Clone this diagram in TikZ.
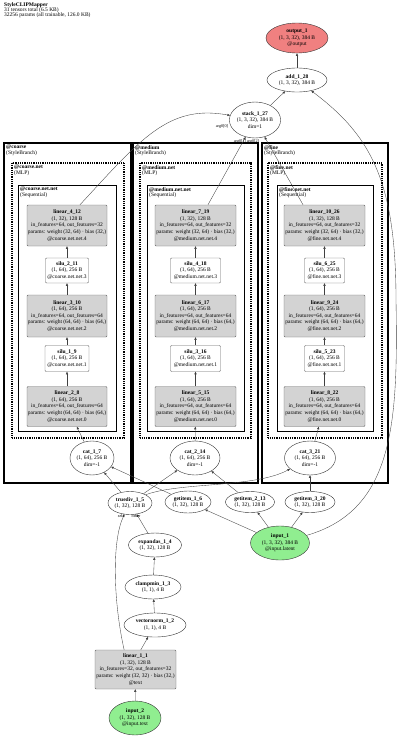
\documentclass[tikz,border=0pt]{standalone}
\usepackage{fontspec}
\setmainfont{Liberation Serif}
\usetikzlibrary{shapes.geometric,arrows.meta}
\definecolor{outred}{RGB}{240,128,128}
\definecolor{ingreen}{RGB}{144,238,144}
\definecolor{opgray}{RGB}{211,211,211}
\begin{document}
\begin{tikzpicture}[x=1pt,y=-1pt,
  font=\fontsize{5.5}{6.6}\selectfont,
  ell/.style={ellipse, draw=black!80, line width=0.4pt, inner sep=0pt, align=center, fill=white},
  opbox/.style={rectangle, draw=black!60, fill=opgray, rounded corners=1pt, inner sep=0pt, align=center, line width=0.4pt},
  actbox/.style={rectangle, draw=black!60, fill=white, rounded corners=1pt, inner sep=0pt, align=center, line width=0.4pt},
  conn/.style={-{Triangle[length=2.6pt,width=2.2pt]}, line width=0.35pt, black!75},
  elab/.style={font=\fontsize{4.2}{4.2}\selectfont, inner sep=0pt},
  branch/.style={draw, line width=1.6pt},
  mlpbox/.style={draw, line width=1.3pt, dash pattern=on 1pt off 0.8pt},
  seqbox/.style={draw, line width=1pt},
  clab/.style={anchor=north west, align=left, inner sep=0pt, font=\fontsize{5.5}{5.8}\selectfont}
]
\useasboundingbox (0,0) rectangle (400,739);

% title
\node[anchor=north west, align=left, inner sep=0pt, font=\fontsize{5.5}{5.2}\selectfont] (title) at (4,2.3)
  {\textbf{StyleCLIPMapper}\\31 tensors total (6.5 KB)\\32256 params (all trainable, 126.0 KB)};

% clusters
\draw[branch] (4,143) rectangle (131,483);
\draw[branch] (133,143) rectangle (258,483);
\draw[branch] (262,143) rectangle (388,483);
\draw[mlpbox] (12,163) rectangle (124,438);
\draw[mlpbox] (140,163) rectangle (251,438);
\draw[mlpbox] (268,163) rectangle (382,438);
\draw[seqbox] (18,185) rectangle (116,431);
\draw[seqbox] (147,185) rectangle (244,431);
\draw[seqbox] (277,185) rectangle (373,431);
\node[clab] (lc1) at (6,145) {\textbf{@coarse}\\(StyleBranch)};
\node[clab] (lc2) at (14,165) {\textbf{@coarse.net}\\(MLP)};
\node[clab] (lc3) at (20,187) {\textbf{@coarse.net.net}\\(Sequential)};
\node[clab] (lm1) at (135,145) {\textbf{@medium}\\(StyleBranch)};
\node[clab] (lm2) at (142,165) {\textbf{@medium.net}\\(MLP)};
\node[clab] (lm3) at (149,187) {\textbf{@medium.net.net}\\(Sequential)};
\node[clab] (lf1) at (264,145) {\textbf{@fine}\\(StyleBranch)};
\node[clab] (lf2) at (270,165) {\textbf{@fine.net}\\(MLP)};
\node[clab] (lf3) at (279,187) {\textbf{@fine.net.net}\\(Sequential)};

% top nodes
\node[ell, fill=outred, minimum width=62, minimum height=30] (output_1) at (297,38)
  {\textbf{output\_1}\\(1, 3, 32), 384 B\\@output};
\node[ell, minimum width=60, minimum height=24] (add_1_28) at (297,80)
  {\textbf{add\_1\_28}\\(1, 3, 32), 384 B};
\node[ell, minimum width=50, minimum height=36] (stack_1_27) at (255,120)
  {\textbf{stack\_1\_27}\\(1, 3, 32), 384 B\\dim=1};

% coarse branch
\node[opbox, minimum width=80, minimum height=41] (linear_4_12) at (67,225.5)
  {\textbf{linear\_4\_12}\\(1, 32), 128 B\\in\_features=64, out\_features=32\\params: weight (32, 64) \textperiodcentered\ bias (32,)\\@coarse.net.net.4};
\node[actbox, minimum width=43, minimum height=25] (silu_2_11) at (67,270.5)
  {\textbf{silu\_2\_11}\\(1, 64), 256 B\\@coarse.net.net.3};
\node[opbox, minimum width=80, minimum height=42] (linear_3_10) at (67,316)
  {\textbf{linear\_3\_10}\\(1, 64), 256 B\\in\_features=64, out\_features=64\\params: weight (64, 64) \textperiodcentered\ bias (64,)\\@coarse.net.net.2};
\node[actbox, minimum width=44, minimum height=26] (silu_1_9) at (67,358.5)
  {\textbf{silu\_1\_9}\\(1, 64), 256 B\\@coarse.net.net.1};
\node[opbox, minimum width=80, minimum height=40] (linear_2_8) at (67,406.5)
  {\textbf{linear\_2\_8}\\(1, 64), 256 B\\in\_features=64, out\_features=64\\params: weight (64, 64) \textperiodcentered\ bias (64,)\\@coarse.net.net.0};
\node[ell, minimum width=44, minimum height=34] (cat_1_7) at (92,458)
  {\textbf{cat\_1\_7}\\(1, 64), 256 B\\dim=-1};

% medium branch
\node[opbox, minimum width=81, minimum height=41] (linear_7_19) at (195.5,225.5)
  {\textbf{linear\_7\_19}\\(1, 32), 128 B\\in\_features=64, out\_features=32\\params: weight (32, 64) \textperiodcentered\ bias (32,)\\@medium.net.net.4};
\node[actbox, minimum width=50, minimum height=25] (silu_4_18) at (195.5,270.5)
  {\textbf{silu\_4\_18}\\(1, 64), 256 B\\@medium.net.net.3};
\node[opbox, minimum width=81, minimum height=42] (linear_6_17) at (195.5,316)
  {\textbf{linear\_6\_17}\\(1, 64), 256 B\\in\_features=64, out\_features=64\\params: weight (64, 64) \textperiodcentered\ bias (64,)\\@medium.net.net.2};
\node[actbox, minimum width=50, minimum height=26] (silu_3_16) at (195.5,358.5)
  {\textbf{silu\_3\_16}\\(1, 64), 256 B\\@medium.net.net.1};
\node[opbox, minimum width=81, minimum height=40] (linear_5_15) at (195.5,406.5)
  {\textbf{linear\_5\_15}\\(1, 64), 256 B\\in\_features=64, out\_features=64\\params: weight (64, 64) \textperiodcentered\ bias (64,)\\@medium.net.net.0};
\node[ell, minimum width=50, minimum height=34] (cat_2_14) at (195,458)
  {\textbf{cat\_2\_14}\\(1, 64), 256 B\\dim=-1};

% fine branch
\node[opbox, minimum width=81, minimum height=41] (linear_10_26) at (324.5,225.5)
  {\textbf{linear\_10\_26}\\(1, 32), 128 B\\in\_features=64, out\_features=32\\params: weight (32, 64) \textperiodcentered\ bias (32,)\\@fine.net.net.4};
\node[actbox, minimum width=40, minimum height=25] (silu_6_25) at (324.5,270.5)
  {\textbf{silu\_6\_25}\\(1, 64), 256 B\\@fine.net.net.3};
\node[opbox, minimum width=81, minimum height=42] (linear_9_24) at (324.5,316)
  {\textbf{linear\_9\_24}\\(1, 64), 256 B\\in\_features=64, out\_features=64\\params: weight (64, 64) \textperiodcentered\ bias (64,)\\@fine.net.net.2};
\node[actbox, minimum width=40, minimum height=26] (silu_5_23) at (324.5,358.5)
  {\textbf{silu\_5\_23}\\(1, 64), 256 B\\@fine.net.net.1};
\node[opbox, minimum width=81, minimum height=40] (linear_8_22) at (324.5,406.5)
  {\textbf{linear\_8\_22}\\(1, 64), 256 B\\in\_features=64, out\_features=64\\params: weight (64, 64) \textperiodcentered\ bias (64,)\\@fine.net.net.0};
\node[ell, minimum width=51, minimum height=34] (cat_3_21) at (310,458)
  {\textbf{cat\_3\_21}\\(1, 64), 256 B\\dim=-1};

% bottom nodes
\node[ell, minimum width=44, minimum height=23] (truediv_1_5) at (130,503)
  {\textbf{truediv\_1\_5}\\(1, 32), 128 B};
\node[ell, minimum width=46, minimum height=22] (getitem_1_6) at (188,502)
  {\textbf{getitem\_1\_6}\\(1, 32), 128 B};
\node[ell, minimum width=49, minimum height=21] (getitem_2_13) at (250,502)
  {\textbf{getitem\_2\_13}\\(1, 32), 128 B};
\node[ell, minimum width=50, minimum height=21] (getitem_3_20) at (310,502)
  {\textbf{getitem\_3\_20}\\(1, 32), 128 B};
\node[ell, fill=ingreen, minimum width=59, minimum height=34] (input_1) at (280,543)
  {\textbf{input\_1}\\(1, 3, 32), 384 B\\@input.latent};
\node[ell, minimum width=53, minimum height=24] (expandas_1_4) at (155,545)
  {\textbf{expandas\_1\_4}\\(1, 32), 128 B};
\node[ell, minimum width=56, minimum height=24] (clampmin_1_3) at (153,587)
  {\textbf{clampmin\_1\_3}\\(1, 1), 4 B};
\node[ell, minimum width=62, minimum height=24] (vectornorm_1_2) at (155,625)
  {\textbf{vectornorm\_1\_2}\\(1, 1), 4 B};
\node[opbox, minimum width=81, minimum height=39] (linear_1_1) at (135.5,669.5)
  {\textbf{linear\_1\_1}\\(1, 32), 128 B\\in\_features=32, out\_features=32\\params: weight (32, 32) \textperiodcentered\ bias (32,)\\@text};
\node[ell, fill=ingreen, minimum width=52, minimum height=34] (input_2) at (135,718)
  {\textbf{input\_2}\\(1, 32), 128 B\\@input.text};

% edges
\draw[conn] (input_2) -- (linear_1_1);
\draw[conn] (linear_1_1.75) -- (vectornorm_1_2);
\draw[conn] (vectornorm_1_2) -- (clampmin_1_3);
\draw[conn] (clampmin_1_3) -- (expandas_1_4);
\draw[conn] (expandas_1_4) -- (truediv_1_5);
\draw[conn] (linear_1_1.120) .. controls (113,600) and (112,540) .. (truediv_1_5);
\draw[conn] (truediv_1_5) -- (cat_1_7);
\draw[conn] (getitem_1_6) -- (cat_1_7);
\draw[conn] (truediv_1_5) -- (cat_2_14);
\draw[conn] (getitem_2_13) -- (cat_2_14);
\draw[conn] (truediv_1_5.north east) .. controls (180,482) and (255,488) .. (cat_3_21);
\draw[conn] (getitem_3_20) -- (cat_3_21);
\draw[conn] (input_1) -- (getitem_1_6);
\draw[conn] (input_1) -- (getitem_2_13);
\draw[conn] (input_1) -- (getitem_3_20);
\draw[conn] (input_1) .. controls (395,510) and (398,420) .. (396,300) .. controls (396,180) and (370,135) .. (add_1_28);

\draw[conn] (cat_1_7) -- (linear_2_8);
\draw[conn] (linear_2_8) -- (silu_1_9);
\draw[conn] (silu_1_9) -- (linear_3_10);
\draw[conn] (linear_3_10) -- (silu_2_11);
\draw[conn] (silu_2_11) -- (linear_4_12);
\draw[conn] (cat_2_14) -- (linear_5_15);
\draw[conn] (linear_5_15) -- (silu_3_16);
\draw[conn] (silu_3_16) -- (linear_6_17);
\draw[conn] (linear_6_17) -- (silu_4_18);
\draw[conn] (silu_4_18) -- (linear_7_19);
\draw[conn] (cat_3_21) -- (linear_8_22);
\draw[conn] (linear_8_22) -- (silu_5_23);
\draw[conn] (silu_5_23) -- (linear_9_24);
\draw[conn] (linear_9_24) -- (silu_6_25);
\draw[conn] (silu_6_25) -- (linear_10_26);

\draw[conn] (linear_4_12.58) .. controls (140,140) and (168,104) .. (stack_1_27);
\draw[conn] (linear_7_19.59) -- (stack_1_27);
\draw[conn] (linear_10_26.136) -- (stack_1_27);
\draw[conn] (stack_1_27) -- (add_1_28);
\draw[conn] (add_1_28) -- (output_1);

% edge labels
\node[elab] (lw0) at (222,126) {arg0[0]};
\node[elab] (lw1) at (240,141.5) {arg0[1]};
\node[elab] (lw2) at (253,141.5) {arg0[2]};
\node[elab] (lt1) at (121,516) {self};
\node[elab] (lt2) at (136,516) {other};
\end{tikzpicture}
\end{document}
